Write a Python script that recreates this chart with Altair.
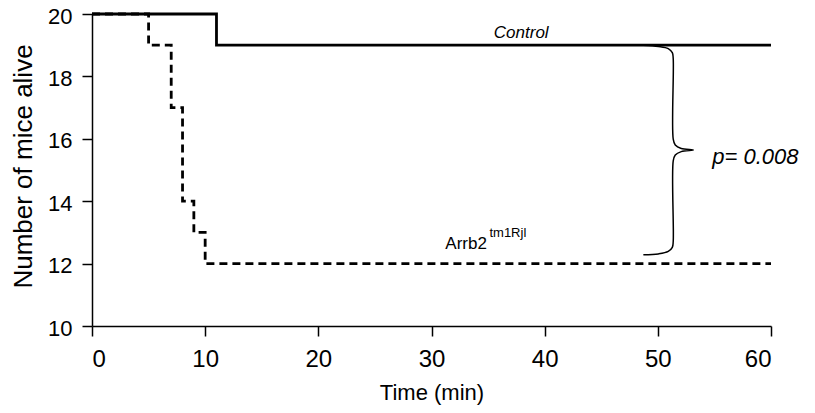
import altair as alt
import pandas as pd

# Survival data (step functions)
control_t = [0, 11, 60]
control_n = [20, 19, 19]
arrb2_t = [0, 5, 7, 8, 9, 10, 60]
arrb2_n = [20, 19, 17, 14, 13, 12, 12]

# Brace annotation (data coordinates)
brace_x = [48.72, 50.05, 50.92, 51.28, 51.36, 51.36, 51.54, 52.07, 53.13, 52.07, 51.54, 51.36, 51.36, 51.28, 50.92, 50.05, 48.72]
brace_y = [19.00, 18.96, 18.89, 18.76, 18.57, 15.99, 15.80, 15.69, 15.64, 15.59, 15.48, 15.29, 12.71, 12.52, 12.39, 12.31, 12.28]

# Text labels
labels_text = ["Control", "Arrb2", "tm1Rjl", "p= 0.008"]

FONT = "Liberation Sans"

ctrl = pd.DataFrame({"t": control_t, "n": control_n})
arr = pd.DataFrame({"t": arrb2_t, "n": arrb2_n})
brace = pd.DataFrame({"x": brace_x, "y": brace_y, "i": list(range(len(brace_x)))})

xscale = alt.Scale(domain=[0, 60], nice=False, zero=False)
yscale = alt.Scale(domain=[10, 20], nice=False, zero=False)

xaxis = alt.Axis(values=[0, 10, 20, 30, 40, 50, 60], title="Time (min)", grid=False,
                 labelFont=FONT, labelFontSize=24, labelPadding=11,
                 titleFont=FONT, titleFontSize=22, titleFontWeight="normal",
                 titleY=73, titleBaseline="alphabetic")
yaxis = alt.Axis(values=[10, 12, 14, 16, 18, 20], title="Number of mice alive", grid=False,
                 labelFont=FONT, labelFontSize=22, labelPadding=10, labelOffset=2,
                 titleFont=FONT, titleFontSize=26, titleFontWeight="normal",
                 titleX=-61, titleY=152, titleAngle=270, titleAlign="center",
                 titleBaseline="alphabetic")

control_line = alt.Chart(ctrl).mark_line(interpolate="step-after", color="black", strokeWidth=2.8).encode(
    x=alt.X("t:Q", scale=xscale, axis=xaxis),
    y=alt.Y("n:Q", scale=yscale, axis=yaxis),
)
arrb2_line = alt.Chart(arr).mark_line(interpolate="step-after", color="black", strokeWidth=2.8,
                                      strokeDash=[8, 5]).encode(
    x=alt.X("t:Q", scale=xscale),
    y=alt.Y("n:Q", scale=yscale),
)
brace_line = alt.Chart(brace).mark_line(interpolate="catmull-rom", color="black", strokeWidth=1.5).encode(
    x=alt.X("x:Q", scale=xscale),
    y=alt.Y("y:Q", scale=yscale),
    order="i:Q",
)

texts = pd.DataFrame({
    "x": [37.93, 31.22, 35.12, 54.81],
    "y": [19.24, 12.46, 12.84, 15.19],
    "label": labels_text,
})

def txt(row, size, style, align):
    return alt.Chart(texts.iloc[[row]]).mark_text(
        font=FONT, fontSize=size, fontStyle=style, align=align, baseline="alphabetic", color="black"
    ).encode(x=alt.X("x:Q", scale=xscale), y=alt.Y("y:Q", scale=yscale), text="label:N")

chart = alt.layer(
    control_line, arrb2_line, brace_line,
    txt(0, 17, "italic", "center"),
    txt(1, 17, "normal", "left"),
    txt(2, 13, "normal", "left"),
    txt(3, 22, "italic", "left"),
).properties(
    width=679, height=312,
    autosize=alt.AutoSizeParams(type="none"),
    padding={"left": 84, "top": 6, "right": 36, "bottom": 79},
).configure_view(stroke=None).configure_axis(
    domainColor="black", domainWidth=1.5, tickColor="black", tickWidth=1.5, tickSize=10,
    labelColor="black", titleColor="black",
)

chart.save("out.html", embed_options={"renderer": "svg", "actions": False})
